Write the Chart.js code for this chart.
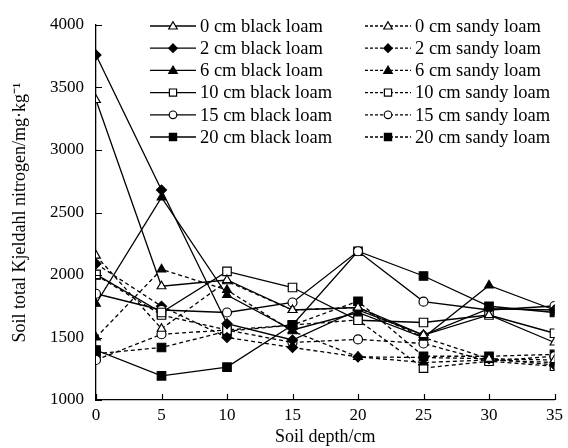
<!DOCTYPE html>
<html><head><meta charset="utf-8">
<script src="https://cdn.jsdelivr.net/npm/chart.js@4/dist/chart.umd.min.js"></script>
<style>html,body{margin:0;padding:0;background:#fff}#wrap{width:568px;height:448px;position:relative}</style>
</head><body><div id="wrap"><canvas id="c" width="568" height="448"></canvas></div>
<script>
const depths = [0, 5, 10, 15, 20, 25, 30, 35];
const yTicks = [1000, 1500, 2000, 2500, 3000, 3500, 4000];
const seriesLabels = [
  "0 cm black loam", "2 cm black loam", "6 cm black loam",
  "10 cm black loam", "15 cm black loam", "20 cm black loam",
  "0 cm sandy loam", "2 cm sandy loam", "6 cm sandy loam",
  "10 cm sandy loam", "15 cm sandy loam", "20 cm sandy loam"
];
const black0  = [3400, 1910, 1960, 1720, 1740, 1520, 1680, 1460];
const black2  = [3760, 2680, 1610, 1480, 1720, 1520, 1730, 1720];
const black6  = [1770, 2620, 1840, 1560, 1700, 1500, 1917, 1720];
const black10 = [2005, 1700, 2029, 1900, 1638, 1620, 1680, 1534];
const black15 = [1850, 1720, 1700, 1780, 2190, 1787, 1720, 1752];
const black20 = [1400, 1193, 1263, 1600, 2190, 1992, 1750, 1700];
const sandy0  = [2155, 1570, 1950, 1720, 1740, 1500, 1330, 1320];
const sandy2  = [2090, 1750, 1500, 1420, 1345, 1340, 1330, 1280];
const sandy6  = [1500, 2045, 1880, 1550, 1345, 1300, 1320, 1300];
const sandy10 = [2000, 1680, 1560, 1600, 1640, 1255, 1310, 1270];
const sandy15 = [1320, 1526, 1560, 1460, 1485, 1452, 1310, 1350];
const sandy20 = [1370, 1420, 1550, 1600, 1790, 1350, 1350, 1365];

const seriesValues = [black0, black2, black6, black10, black15, black20,
                      sandy0, sandy2, sandy6, sandy10, sandy15, sandy20];
const markerShapes = ['triangle', 'rectRot', 'triangle', 'rect', 'circle', 'rect'];
const markerFilled = [false, true, true, false, false, true];
const markerRadius = [5, 5, 5, 6, 4.5, 6];

const FONT = "'Liberation Serif', 'Times New Roman', serif";

const datasets = seriesValues.map((vals, i) => {
  const k = i % 6;
  const dashed = i >= 6;
  return {
    label: seriesLabels[i],
    data: depths.map((d, j) => ({x: d, y: vals[j]})),
    borderColor: '#000',
    borderWidth: 1.3,
    borderDash: dashed ? [4, 3] : [],
    pointStyle: markerShapes[k],
    pointRadius: markerRadius[k],
    pointBorderWidth: 1.2,
    pointBorderColor: '#000',
    pointBackgroundColor: markerFilled[k] ? '#000' : '#fff',
    fill: false,
    tension: 0
  };
});

function drawMarker(ctx, shape, x, y, r, filled) {
  ctx.save();
  ctx.setLineDash([]);
  ctx.lineWidth = 1.2;
  ctx.strokeStyle = '#000';
  ctx.fillStyle = filled ? '#000' : '#fff';
  ctx.beginPath();
  if (shape === 'triangle') {
    ctx.moveTo(x, y - r);
    ctx.lineTo(x + r, y + r * 0.7);
    ctx.lineTo(x - r, y + r * 0.7);
    ctx.closePath();
  } else if (shape === 'rectRot') {
    ctx.moveTo(x, y - r); ctx.lineTo(x + r, y); ctx.lineTo(x, y + r); ctx.lineTo(x - r, y); ctx.closePath();
  } else if (shape === 'rect') {
    const s = r * Math.SQRT1_2;
    ctx.rect(x - s, y - s, 2 * s, 2 * s);
  } else {
    ctx.arc(x, y, r, 0, Math.PI * 2);
  }
  ctx.fill();
  ctx.stroke();
  ctx.restore();
}

const customLegend = {
  id: 'customLegend',
  afterDraw(chart) {
    const ctx = chart.ctx;
    const colX = [150, 365];
    const rowY0 = 26, rowH = 22.2;
    chart.data.datasets.forEach((ds, i) => {
      const col = i < 6 ? 0 : 1;
      const row = i % 6;
      const x0 = colX[col], y = rowY0 + row * rowH;
      const len = 46;
      ctx.save();
      ctx.strokeStyle = '#000';
      ctx.lineWidth = 1.3;
      ctx.setLineDash(col === 1 ? [3, 2] : []);
      ctx.beginPath(); ctx.moveTo(x0, y); ctx.lineTo(x0 + len, y); ctx.stroke();
      ctx.restore();
      drawMarker(ctx, markerShapes[row], x0 + len / 2, y, markerRadius[row] * 0.85, markerFilled[row]);
      ctx.save();
      ctx.fillStyle = '#000';
      ctx.font = '18.5px ' + FONT;
      ctx.textBaseline = 'middle';
      ctx.textAlign = 'left';
      ctx.fillText(ds.label, x0 + len + 4, y + 1);
      ctx.restore();
    });
  }
};

const innerTicks = {
  id: 'innerTicks',
  afterDraw(chart) {
    const ctx = chart.ctx;
    const xs = chart.scales.x, ys = chart.scales.y;
    const a = chart.chartArea;
    ctx.save();
    ctx.strokeStyle = '#000';
    ctx.lineWidth = 1.2;
    ctx.beginPath();
    yTicks.forEach(v => {
      const py = Math.round(ys.getPixelForValue(v)) + 0.5;
      ctx.moveTo(a.left, py); ctx.lineTo(a.left + 6, py);
    });
    depths.forEach(v => {
      const px = Math.round(xs.getPixelForValue(v)) + 0.5;
      ctx.moveTo(px, a.bottom); ctx.lineTo(px, a.bottom - 6);
    });
    ctx.stroke();
    ctx.restore();
  }
};

new Chart(document.getElementById('c'), {
  type: 'line',
  data: { datasets },
  options: {
    responsive: false,
    animation: false,
    devicePixelRatio: 1,
    layout: { padding: { top: 25, right: 11, left: 0, bottom: 0 } },
    plugins: { legend: { display: false }, tooltip: { enabled: false } },
    scales: {
      x: {
        type: 'linear', min: 0, max: 35,
        afterBuildTicks: s => { s.ticks = depths.map(v => ({value: v})); },
        afterFit: s => { s.height = 48; },
        grid: { drawOnChartArea: false, drawTicks: false },
        border: { color: '#000', width: 1.3 },
        ticks: { color: '#000', padding: 5, font: { family: FONT, size: 17 }, maxRotation: 0, callback: v => String(v) },
        title: { display: true, text: 'Soil depth/cm', color: '#000', padding: { top: 0, bottom: 0 }, font: { family: FONT, size: 18 } }
      },
      y: {
        min: 1000, max: 4000,
        afterBuildTicks: s => { s.ticks = yTicks.map(v => ({value: v})); },
        afterFit: s => { s.width = 96; },
        grid: { drawOnChartArea: false, drawTicks: false },
        border: { color: '#000', width: 1.3 },
        ticks: { color: '#000', padding: 12, font: { family: FONT, size: 17 }, callback: v => String(v) },
        title: { display: true, text: 'Soil total Kjeldahl nitrogen/mg·kg⁻¹', color: '#000', padding: { top: 9, bottom: 0 }, font: { family: FONT, size: 18 } }
      }
    }
  },
  plugins: [customLegend, innerTicks]
});
</script>
</body></html>
